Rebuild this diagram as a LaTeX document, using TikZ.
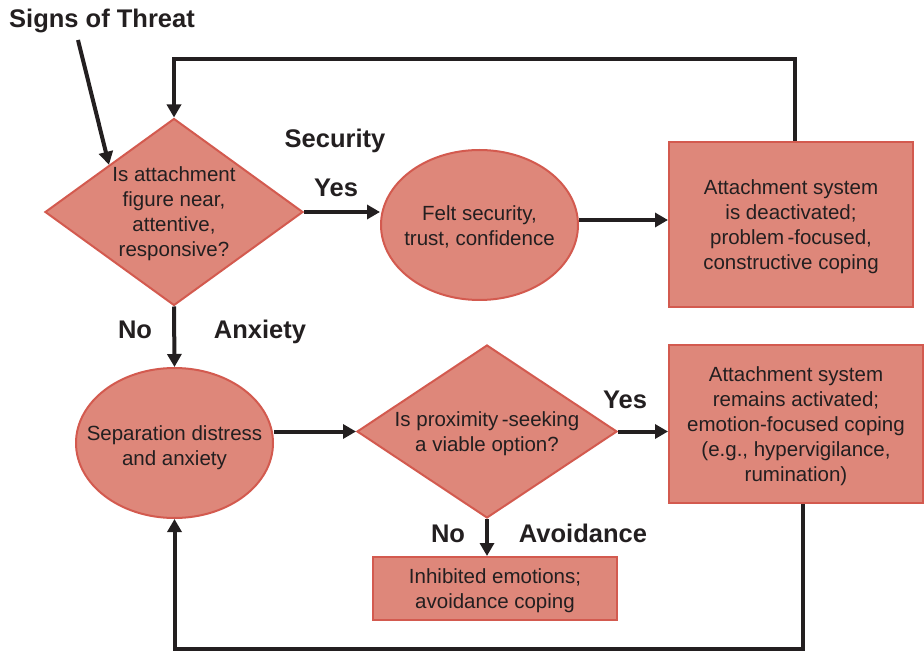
\documentclass[tikz,border=0pt]{standalone}
\usepackage{fontspec}
\setmainfont{Liberation Sans}
\usetikzlibrary{shapes.geometric,arrows.meta}
\definecolor{boxfill}{HTML}{DE877A}
\definecolor{boxline}{HTML}{D35A4F}
\definecolor{ink}{HTML}{231F20}

\begin{document}
\begin{tikzpicture}[x=1pt,y=-1pt,
  body/.style={font=\fontsize{20.5}{25}\selectfont, text=ink, align=center, text depth=0pt},
  tag/.style={font=\fontsize{25.5}{30}\selectfont\bfseries, text=ink, anchor=base, inner sep=0pt},
  shapebox/.style={fill=boxfill, draw=boxline, line width=2pt},
  decision/.style={shapebox, body, diamond, inner sep=0pt},
  oval/.style={shapebox, ellipse, inner sep=0pt, minimum width=197pt, minimum height=150pt},
  panel/.style={shapebox, body, rectangle, inner sep=0pt},
  flow/.style={draw=ink, line width=4pt, -{Triangle[length=13pt,width=14pt]}},
]
\useasboundingbox (0,0) rectangle (924,652);

% decisions
\node[decision, aspect=1.38, minimum width=258pt, minimum height=187pt] (d1) at (174,212)
  {Is attachment\\figure near,\\attentive,\\responsive?};
\node[decision, aspect=1.5, minimum width=260pt, minimum height=173pt] (d2) at (487,431.5)
  {Is proximity\,-seeking\\a viable option?};

% states
\node[oval] (e1) at (479.5,225) {};
\node[body] (e1t) at (479.5,225.5) {Felt security,\\trust, confidence};
\node[oval] (e2) at (174.5,443) {};
\node[body] (e2t) at (174.5,445.5) {Separation distress\\and anxiety};

% outcomes
\node[panel, minimum width=244pt, minimum height=165pt] (r1) at (791,224.5)
  {Attachment system\\is deactivated;\\problem\,-focused,\\constructive coping};
\node[panel, minimum width=254pt, minimum height=158pt] (r2) at (796,424)
  {Attachment system\\remains activated;\\emotion-focused coping\\(e.g., hypervigilance,\\rumination)};
\node[panel, minimum width=244pt, minimum height=63pt] (r3) at (495,588.5)
  {Inhibited emotions;\\avoidance coping};

% labels
\node[tag, anchor=base west] (threat) at (9,28) {Signs of Threat};
\node[tag] (sec) at (335,148) {Security};
\node[tag] (yes1) at (336,197) {Yes};
\node[tag] (no1) at (135,338) {No};
\node[tag] (anx) at (260,338) {Anxiety};
\node[tag] (yes2) at (625,408) {Yes};
\node[tag] (no2) at (448,542) {No};
\node[tag] (avoid) at (583,542) {Avoidance};

% connectors
\coordinate (threatfoot) at (78,40);
\draw[flow] (threatfoot) -- (d1.north west);
\draw[flow] (d1.east) -- (d1.east -| e1.west);
\draw[flow] ([yshift=5pt]e1.east) -- ([yshift=5pt]e1.east -| r1.west);
\draw[flow] ([xshift=4pt]r1.north) -- ++(0,-82) -| (d1.north);
\draw[flow] (d1.south) -- (e2.north);
\draw[flow] (e2.east |- d2.west) -- (d2.west);
\draw[flow] (d2.east) -- (d2.east -| r2.west);
\draw[flow] (d2.south) -- (d2.south |- r3.north);
\draw[flow] ([xshift=7pt]r2.south) -- ++(0,145) -| (e2.south);
\end{tikzpicture}
\end{document}
